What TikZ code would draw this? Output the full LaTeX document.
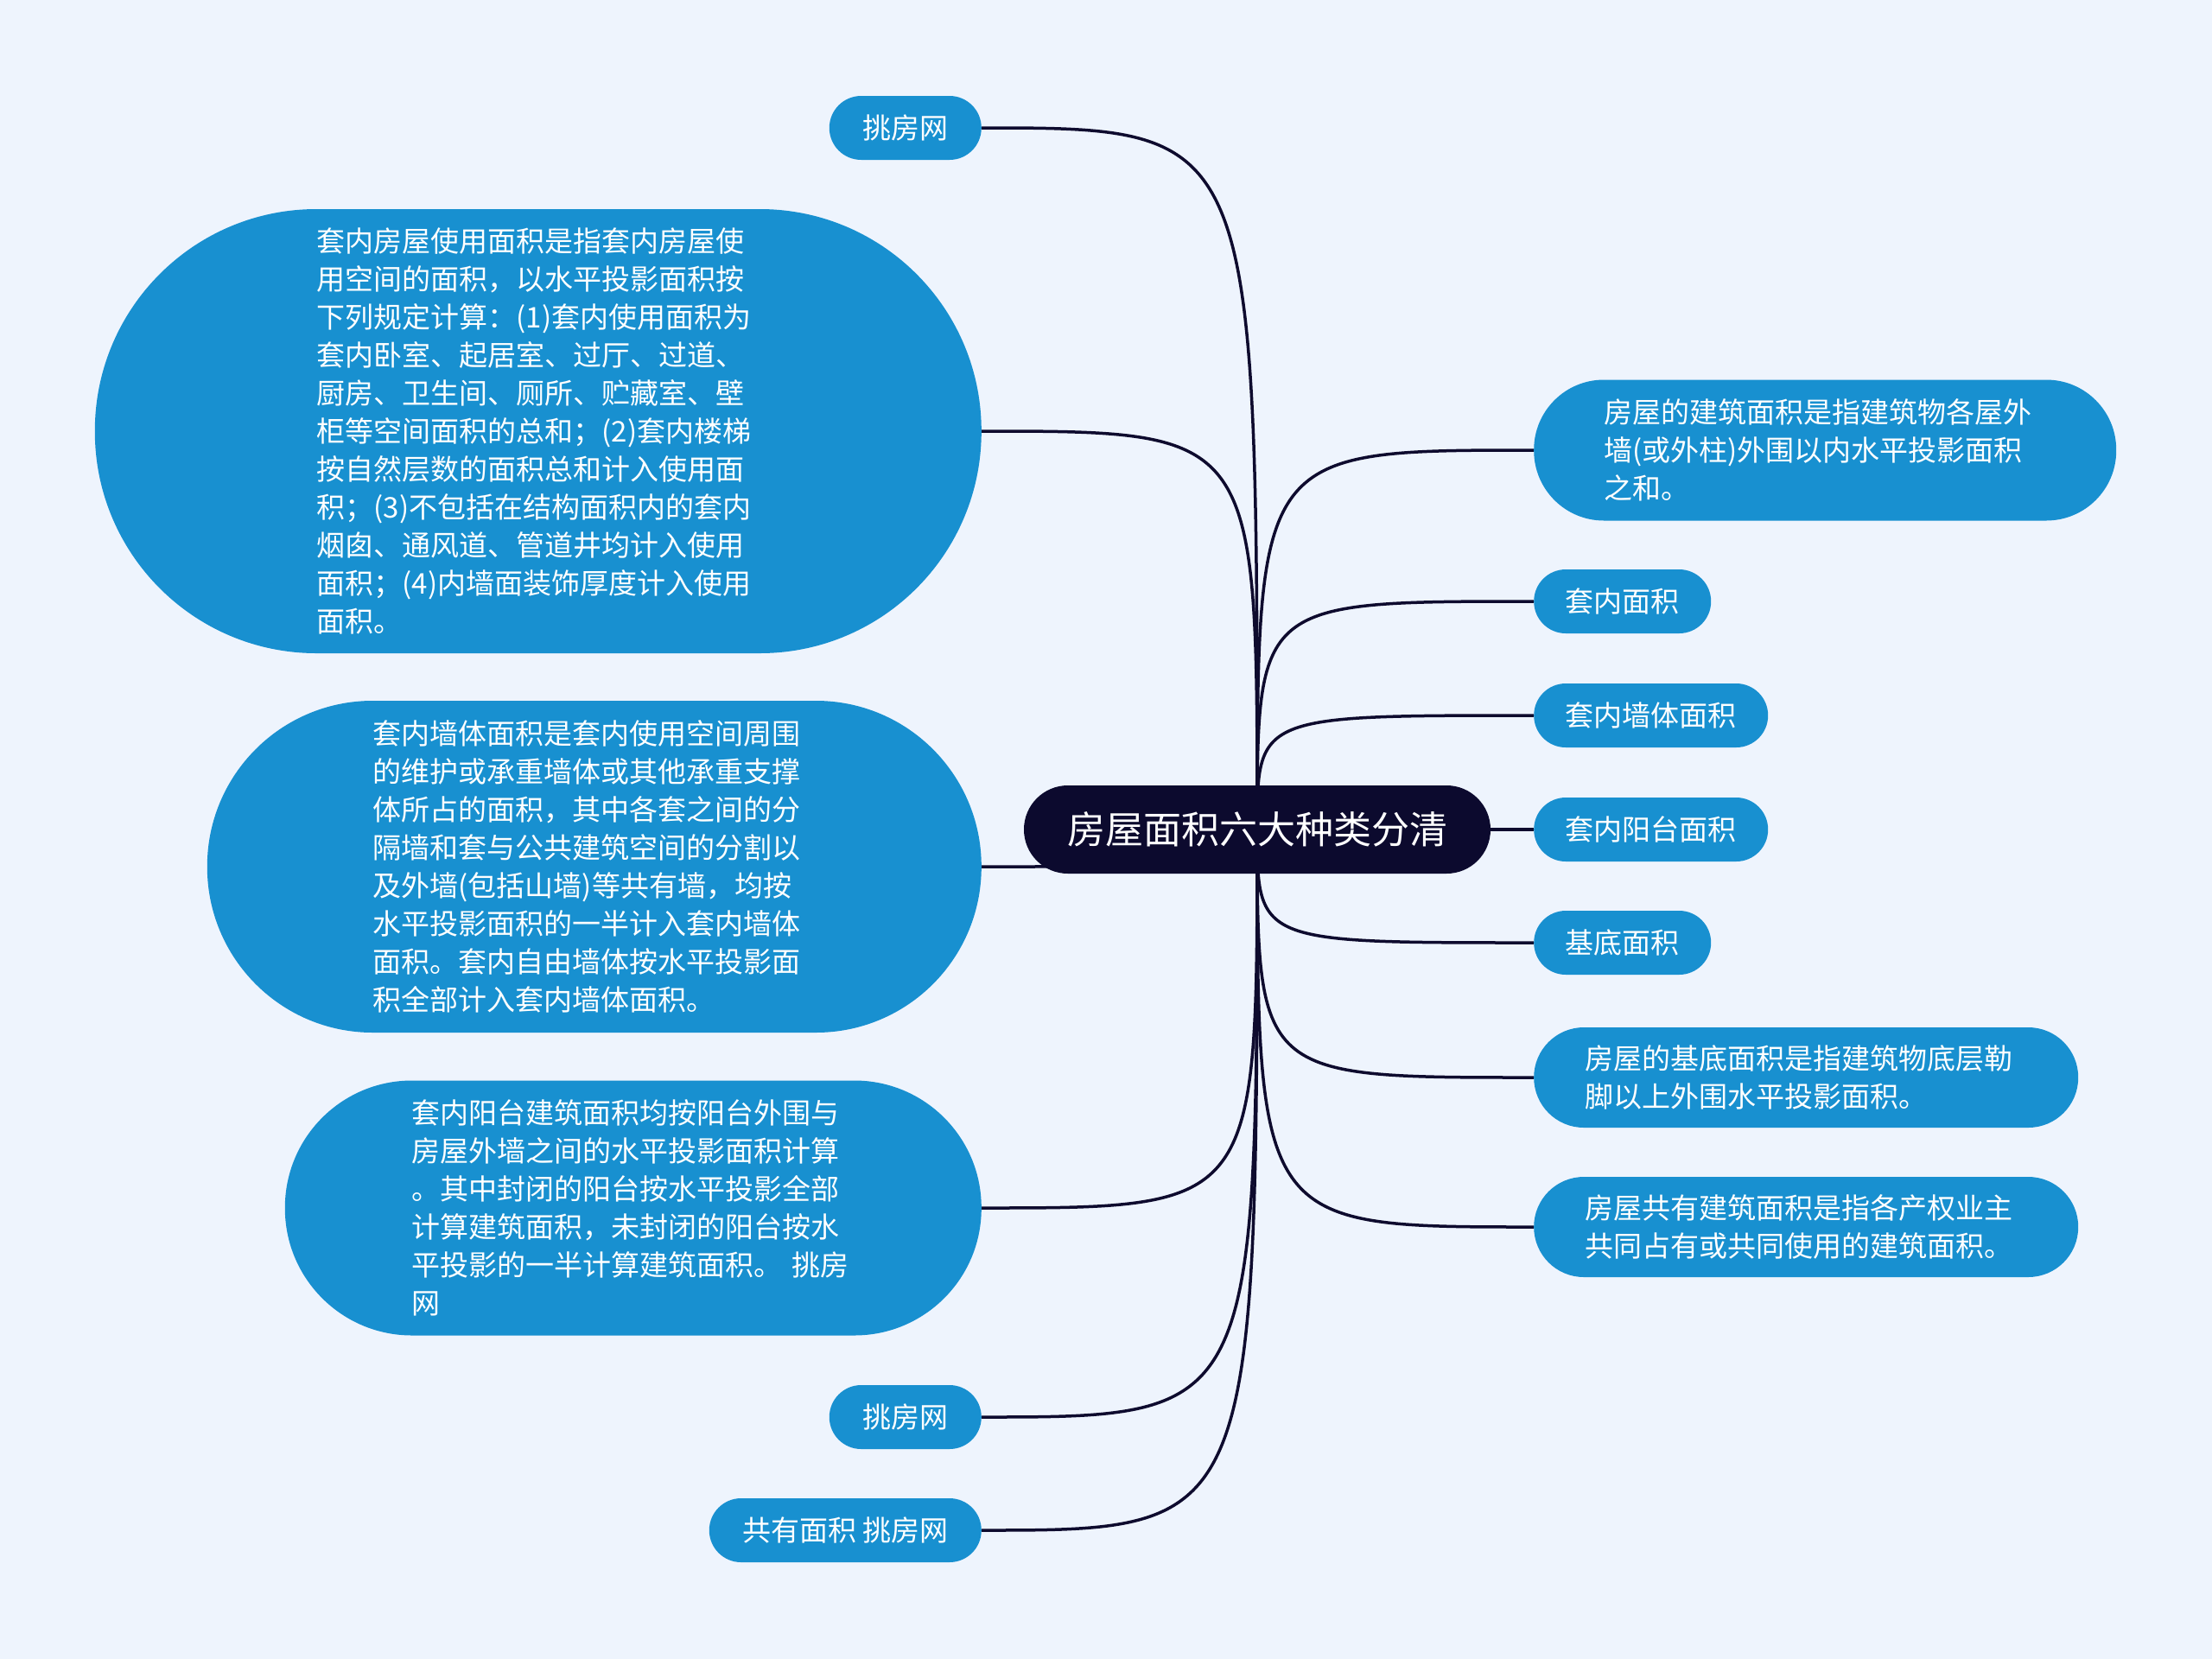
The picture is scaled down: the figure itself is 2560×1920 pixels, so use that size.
\documentclass[tikz,border=0pt]{standalone}
\usepackage{fontspec}
\setmainfont{Noto Sans CJK SC}
\usetikzlibrary{backgrounds}
\definecolor{bgc}{HTML}{EEF4FD}
\definecolor{leafc}{HTML}{1890D0}
\definecolor{rootc}{HTML}{0C0A2E}
\definecolor{linec}{HTML}{0E0B2E}
\tikzset{
  leaf/.style={rectangle, fill=leafc, text=white, inner sep=0pt,
    font=\fontsize{33}{44}\selectfont},
  wide/.style={leaf, text width=512pt, align=left},
  short/.style={leaf, minimum height=74pt, rounded corners=36.9pt},
  rootnode/.style={rectangle, fill=rootc, text=white, inner sep=0pt,
    minimum width=540pt, minimum height=102pt, rounded corners=50.9pt,
    font=\fontsize{44}{52}\selectfont},
  link/.style={draw=linec, line width=3.5pt}
}
\begin{document}
\begin{tikzpicture}[x=1pt,y=-1pt]
\useasboundingbox (0,0) rectangle (2560,1920);
\begin{scope}[on background layer]
\fill[bgc] (0,0) rectangle (2560,1920);
\end{scope}

\node[rootnode] (c) at (1455,960) {房屋面积六大种类分清};

% left side
\node[short, minimum width=176pt, anchor=east] (l1) at (1136,148) {挑房网};
\node[wide, minimum width=1026pt, minimum height=514pt, rounded corners=256.5pt, anchor=east] (l2) at (1136,499) {套内房屋使用面积是指套内房屋使\\用空间的面积，以水平投影面积按\\下列规定计算：(1)套内使用面积为\\套内卧室、起居室、过厅、过道、\\厨房、卫生间、厕所、贮藏室、壁\\柜等空间面积的总和；(2)套内楼梯\\按自然层数的面积总和计入使用面\\积；(3)不包括在结构面积内的套内\\烟囱、通风道、管道井均计入使用\\面积；(4)内墙面装饰厚度计入使用\\面积。};
\node[wide, minimum width=896pt, minimum height=384pt, rounded corners=191.5pt, anchor=east] (l3) at (1136,1003) {套内墙体面积是套内使用空间周围\\的维护或承重墙体或其他承重支撑\\体所占的面积，其中各套之间的分\\隔墙和套与公共建筑空间的分割以\\及外墙(包括山墙)等共有墙，均按\\水平投影面积的一半计入套内墙体\\面积。套内自由墙体按水平投影面\\积全部计入套内墙体面积。};
\node[wide, minimum width=806pt, minimum height=295pt, rounded corners=147pt, anchor=east] (l4) at (1136,1398) {套内阳台建筑面积均按阳台外围与\\房屋外墙之间的水平投影面积计算\\。其中封闭的阳台按水平投影全部\\计算建筑面积，未封闭的阳台按水\\平投影的一半计算建筑面积。 挑房\\网};
\node[short, minimum width=176pt, anchor=east] (l5) at (1136,1640) {挑房网};
\node[short, minimum width=315pt, anchor=east] (l6) at (1136,1771) {共有面积 挑房网};

% right side
\node[wide, minimum width=674pt, minimum height=163pt, rounded corners=81pt, anchor=west] (r1) at (1775,521) {房屋的建筑面积是指建筑物各屋外\\墙(或外柱)外围以内水平投影面积\\之和。};
\node[short, minimum width=205pt, anchor=west] (r2) at (1775,696) {套内面积};
\node[short, minimum width=271pt, anchor=west] (r3) at (1775,828) {套内墙体面积};
\node[short, minimum width=271pt, anchor=west] (r4) at (1775,960) {套内阳台面积};
\node[short, minimum width=205pt, anchor=west] (r5) at (1775,1091) {基底面积};
\node[wide, minimum width=630pt, minimum height=116pt, rounded corners=57.9pt, anchor=west] (r6) at (1775,1247) {房屋的基底面积是指建筑物底层勒\\脚以上外围水平投影面积。};
\node[wide, minimum width=630pt, minimum height=116pt, rounded corners=57.9pt, anchor=west] (r7) at (1775,1420) {房屋共有建筑面积是指各产权业主\\共同占有或共同使用的建筑面积。};

\begin{scope}[on background layer]
\foreach \n in {l1,l2,l3,l4,l5,l6}
  \draw[link] (\n.east) .. controls (c.center |- \n.east) .. (c.center);
\foreach \n in {r1,r2,r3,r5,r6,r7}
  \draw[link] (\n.west) .. controls (c.center |- \n.west) .. (c.center);
\draw[link] (r4.west) -- (c.center);
\end{scope}
\end{tikzpicture}
\end{document}
